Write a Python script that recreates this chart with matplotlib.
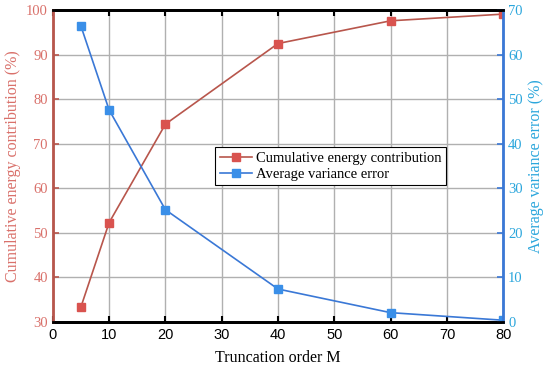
import matplotlib
matplotlib.use("Agg")
import matplotlib.pyplot as plt

orders = [5, 10, 20, 40, 60, 80]
energy = [33.4, 52.3, 74.4, 92.5, 97.6, 99.1]
variance_err = [66.4, 47.6, 25.2, 7.4, 2.1, 0.4]
x_ticks = [0, 10, 20, 30, 40, 50, 60, 70, 80]

red_line = "#b8564c"
red_mark = "#d9534f"
red_text = "#d9706a"
blue_line = "#3a78d6"
blue_mark = "#3a8fe8"
blue_text = "#2ba6dc"

serif = ["Liberation Serif", "DejaVu Serif"]

fig = plt.figure(figsize=(5.5, 3.74), dpi=100)
ax = fig.add_axes([0.096, 0.139, 0.819, 0.834])
ax2 = ax.twinx()

ax.plot(orders, energy, color=red_line, lw=1.2, marker="s", ms=5.5,
        mfc=red_mark, mec=red_mark, label="Cumulative energy contribution")
ax2.plot(orders, variance_err, color=blue_line, lw=1.2, marker="s", ms=5.5,
         mfc=blue_mark, mec=blue_mark, label="Average variance error")

ax.set_xlim(0, 80)
ax.set_ylim(30, 100)
ax2.set_ylim(0, 70)
ax.set_xticks(x_ticks)
ax.set_yticks(range(30, 101, 10))
ax2.set_yticks(range(0, 71, 10))

ax.grid(True, color="#b0b0b0", lw=1.0)
ax.set_axisbelow(True)

for lab in ax.get_xticklabels():
    lab.set_fontfamily(["Liberation Sans", "DejaVu Sans"])
    lab.set_fontsize(10.5)
for lab in ax.get_yticklabels():
    lab.set_fontfamily(serif)
    lab.set_fontsize(10.5)
    lab.set_color(red_text)
for lab in ax2.get_yticklabels():
    lab.set_fontfamily(serif)
    lab.set_fontsize(10.5)
    lab.set_color(blue_text)

ax.tick_params(axis="x", direction="in", top=True, length=4, width=1.5, color="black", pad=4)
ax.tick_params(axis="y", direction="in", length=4, width=1.2, color=red_line)
ax2.tick_params(axis="y", direction="in", length=4, width=1.2, color=blue_line)

for a in (ax, ax2):
    a.spines["top"].set_color("black")
    a.spines["top"].set_linewidth(2.0)
    a.spines["bottom"].set_color("black")
    a.spines["bottom"].set_linewidth(2.0)
ax2.spines["left"].set_color(red_line)
ax2.spines["left"].set_linewidth(2.0)
ax2.spines["right"].set_color(blue_line)
ax2.spines["right"].set_linewidth(2.0)

ax.set_xlabel("Truncation order M", fontfamily=serif, fontsize=11.5, labelpad=6)
ax.set_ylabel("Cumulative energy contribution (%)", fontfamily=serif, fontsize=11.5,
              color=red_text, labelpad=4)
ax2.set_ylabel("Average variance error (%)", fontfamily=serif, fontsize=11.5,
               color=blue_text, labelpad=4)

h1, l1 = ax.get_legend_handles_labels()
h2, l2 = ax2.get_legend_handles_labels()
leg = ax2.legend(h1 + h2, l1 + l2, loc="upper right", bbox_to_anchor=(0.873, 0.56),
                 prop={"family": serif, "size": 10.5}, frameon=True, fancybox=False,
                 edgecolor="black", framealpha=1, borderpad=0.3, handlelength=2.2,
                 handletextpad=0.3, labelspacing=0.2, borderaxespad=0)
leg.get_frame().set_linewidth(0.8)

fig.savefig("out.png", dpi=100)
